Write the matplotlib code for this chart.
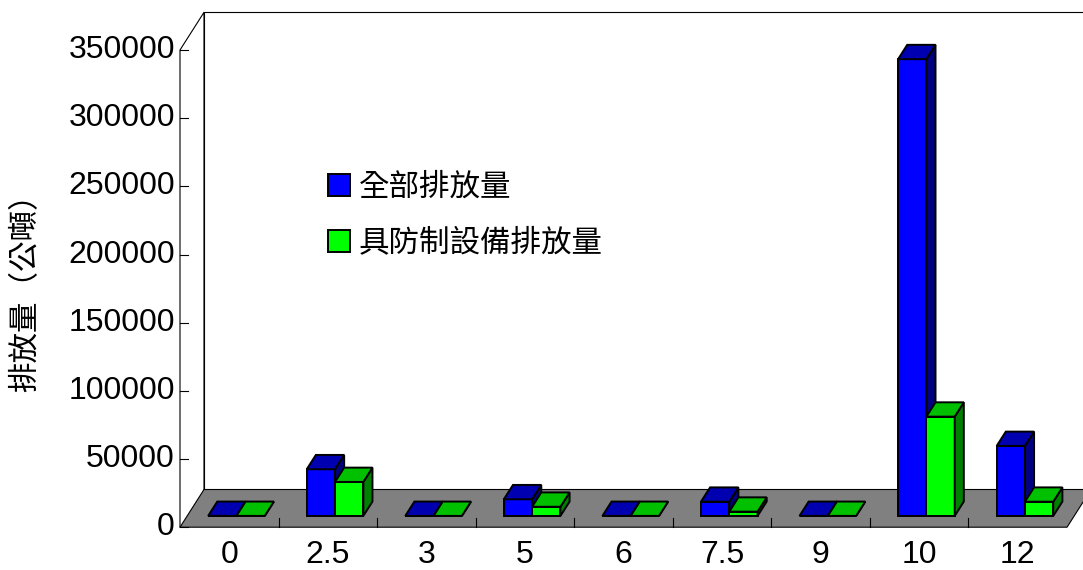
import matplotlib.pyplot as plt
from matplotlib.patches import Polygon, Patch
from matplotlib.font_manager import FontProperties

# 排放量資料 (公噸)
categories = ['0', '2.5', '3', '5', '6', '7.5', '9', '10', '12']
total_emission = [0, 34200, 0, 12200, 0, 10400, 0, 335000, 51300]
controlled_emission = [0, 24900, 0, 6700, 0, 3100, 0, 72800, 10400]
y_ticks = [0, 50000, 100000, 150000, 200000, 250000, 300000, 350000]
series_names = ['全部排放量', '具防制設備排放量']

# 正面 / 頂面 / 側面 顏色
blue_faces = ('#0000ff', '#0000b0', '#000080')
green_faces = ('#00ff00', '#00c000', '#008000')

plt.rcParams['font.family'] = ['Liberation Sans', 'Noto Sans CJK TC']
cjk = ['Noto Sans CJK TC', 'DejaVu Sans']

W, H = 1083, 570
fig = plt.figure(figsize=(W / 100, H / 100), dpi=100)
ax = fig.add_axes([0, 0, 1, 1])
ax.set_axis_off()

# 以像素量得的版面比例
x0_px, cat_px = 180.0, 98.56
y0_px, per_px = 527.2, 68.17 / 50000
ax.set_xlim(-x0_px / cat_px, (W - x0_px) / cat_px)
ax.set_ylim(-(H - y0_px) / per_px, y0_px / per_px)

n = len(categories)
ymax = y_ticks[-1]
dx = 24 / cat_px          # 景深 x 偏移
dy = 37.7 / per_px        # 景深 y 偏移
wall_lw = 0.8
bar_lw = 1.4

# 背牆
ax.add_patch(Polygon([(dx, dy), (n + dx, dy), (n + dx, ymax + dy), (dx, ymax + dy)],
                     closed=True, fc='white', ec='black', lw=wall_lw, zorder=1))
# 地板
ax.add_patch(Polygon([(0, 0), (n, 0), (n + dx, dy), (dx, dy)],
                     closed=True, fc='#808080', ec='black', lw=wall_lw, zorder=2))
# 左牆邊線
ax.plot([0, 0, dx, dx], [0, ymax, ymax + dy, dy], color='black', lw=wall_lw, zorder=3)

# 刻度
for c in range(1, n):
    ax.plot([c, c], [0, 9 / per_px], color='black', lw=0.8, zorder=3)
for v in y_ticks:
    ax.plot([0, 8 / cat_px], [v, v], color='black', lw=0.8, zorder=3)
    ax.text(-5 / cat_px, v, str(v), ha='right', va='center', fontsize=23,
            family='Liberation Sans')
for i, lab in enumerate(categories):
    ax.text(i + 0.5, -(555 - y0_px) / per_px, lab, ha='center', va='center',
            fontsize=23, family='Liberation Sans')

# 立體長條
f0, f1 = 0.30, 0.68
bw = 28.3 / cat_px


def bar3d(xl, h, faces, z):
    front, top, side = faces
    xa, ya = xl + f0 * dx, f0 * dy
    xb, yb = xl + f1 * dx, f1 * dy
    kw = dict(closed=True, ec='black', lw=bar_lw, joinstyle='miter', zorder=z)
    ax.add_patch(Polygon([(xa, ya), (xa + bw, ya), (xa + bw, ya + h), (xa, ya + h)],
                         fc=front, **kw))
    ax.add_patch(Polygon([(xa + bw, ya), (xb + bw, yb), (xb + bw, yb + h), (xa + bw, ya + h)],
                         fc=side, **kw))
    ax.add_patch(Polygon([(xa, ya + h), (xa + bw, ya + h), (xb + bw, yb + h), (xb, yb + h)],
                         fc=top, **kw))


for i in range(n):
    bar3d(i + 0.5 - bw, total_emission[i], blue_faces, 4)
    bar3d(i + 0.5, controlled_emission[i], green_faces, 5)

# y 軸標題
ax.text((26 - x0_px) / cat_px, (y0_px - 285) / per_px, '排放量（公噸）', rotation=90,
        ha='center', va='center', fontsize=22, family=cjk)

# 圖例
handles = [Patch(fc=blue_faces[0], ec='black', lw=bar_lw),
           Patch(fc=green_faces[0], ec='black', lw=bar_lw)]
ax.legend(handles, series_names, loc='upper left', bbox_to_anchor=(328 / W, 1 - 172 / H),
          bbox_transform=fig.transFigure, frameon=False, borderpad=0, borderaxespad=0,
          handlelength=0.72, handleheight=0.72, handletextpad=0.3, labelspacing=0.82,
          prop=FontProperties(family=cjk, size=22))

fig.savefig('out.png', dpi=100)
